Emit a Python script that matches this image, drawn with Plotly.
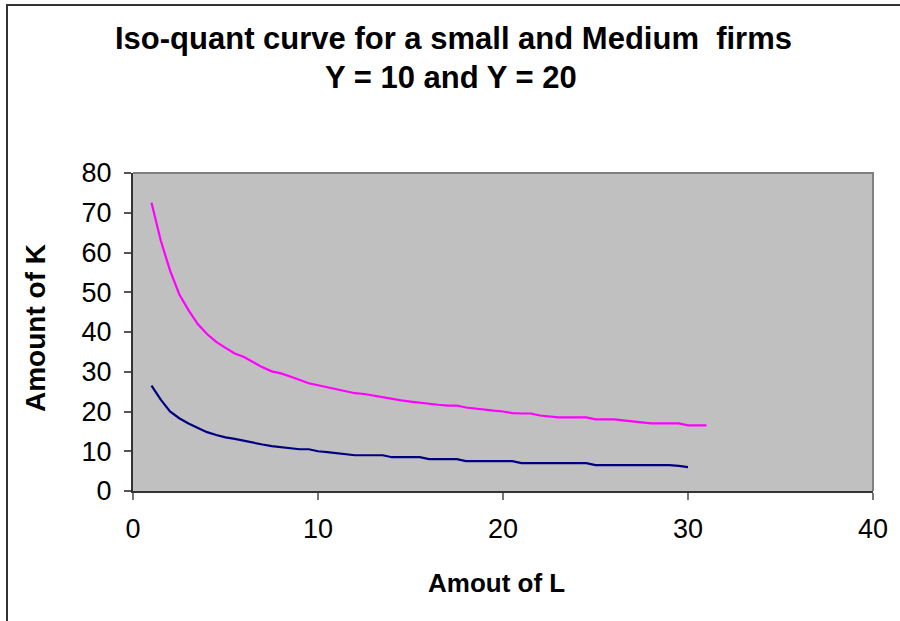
import plotly.graph_objects as go

# Data
L_small = [1 + 0.5 * i for i in range(59)]  # 1 .. 30
K_small = [26.5, 23, 20, 18.3, 17, 15.8, 14.8, 14.1, 13.5, 13.1,
           12.6, 12.2, 11.7, 11.3, 11, 10.8, 10.5, 10.5, 10, 9.8,
           9.5, 9.3, 9, 9, 9, 9, 8.5, 8.5, 8.5, 8.5,
           8, 8, 8, 8, 7.5, 7.5, 7.5, 7.5, 7.5, 7.5,
           7, 7, 7, 7, 7, 7, 7, 7, 6.5, 6.5,
           6.5, 6.5, 6.5, 6.5, 6.5, 6.5, 6.5, 6.3, 6]

L_medium = [1 + 0.5 * i for i in range(61)]  # 1 .. 31
K_medium = [72.5, 63, 55.5, 49.5, 45.5, 42, 39.5, 37.5, 36, 34.6,
            33.7, 32.4, 31.1, 30.1, 29.6, 28.8, 28, 27.1, 26.6, 26.1,
            25.5, 25.1, 24.6, 24.4, 24, 23.6, 23.1, 22.8, 22.5, 22.2,
            22, 21.7, 21.5, 21.5, 21, 20.7, 20.5, 20.2, 20, 19.6,
            19.5, 19.5, 19, 18.8, 18.5, 18.5, 18.5, 18.5, 18, 18,
            18, 17.75, 17.5, 17.25, 17, 17, 17, 17, 16.5, 16.5, 16.5]

x_ticks = [0, 10, 20, 30, 40]
y_ticks = [0, 10, 20, 30, 40, 50, 60, 70, 80]

title_lines = ["Iso-quant curve for a small and Medium  firms", "Y = 10 and Y = 20"]

FONT = "Liberation Sans, Arial, sans-serif"

fig = go.Figure()
fig.add_trace(go.Scatter(x=L_small, y=K_small, mode="lines",
                         line=dict(color="#000080", width=2.2), name="Y = 10"))
fig.add_trace(go.Scatter(x=L_medium, y=K_medium, mode="lines",
                         line=dict(color="#FF00FF", width=2.2), name="Y = 20"))

W, H = 900, 621
ml, mr, mt, mb = 133, 27, 173, 130
pw, ph = W - ml - mr, H - mt - mb

def px2x(px):
    return (px - ml) / pw

def py2y(py):
    return (H - mb - py) / ph

annotations = [
    dict(text="<b>" + title_lines[0] + "</b>", xref="paper", yref="paper",
         x=px2x(453), y=py2y(38), xanchor="center", yanchor="middle",
         showarrow=False, font=dict(size=31, family=FONT, color="black")),
    dict(text="<b>" + title_lines[1] + "</b>", xref="paper", yref="paper",
         x=px2x(451), y=py2y(77), xanchor="center", yanchor="middle",
         showarrow=False, font=dict(size=31, family=FONT, color="black")),
    dict(text="<b>Amout of L</b>", xref="paper", yref="paper",
         x=px2x(496.5), y=py2y(583), xanchor="center", yanchor="middle",
         showarrow=False, font=dict(size=26, family=FONT, color="black")),
    dict(text="<b>Amount of K</b>", xref="paper", yref="paper",
         x=px2x(35), y=py2y(328), xanchor="center", yanchor="middle",
         textangle=-90, showarrow=False,
         font=dict(size=28, family=FONT, color="black")),
]

fig.update_layout(
    width=W, height=H,
    margin=dict(l=ml, r=mr, t=mt, b=mb),
    paper_bgcolor="white",
    plot_bgcolor="#C0C0C0",
    showlegend=False,
    font=dict(family=FONT, color="black"),
    xaxis=dict(
        range=[0, 40], tickvals=x_ticks, ticktext=[str(v) for v in x_ticks],
        showgrid=False, zeroline=False,
        showline=True, linecolor="#333333", linewidth=2,
        ticks="outside", ticklen=7, tickwidth=1.5, tickcolor="#777777",
        tickfont=dict(size=27, family=FONT, color="black"),
        ticklabelstandoff=6,
    ),
    yaxis=dict(
        range=[0, 80], tickvals=y_ticks, ticktext=[str(v) for v in y_ticks],
        showgrid=False, zeroline=False,
        showline=True, linecolor="#333333", linewidth=2,
        ticks="outside", ticklen=7, tickwidth=1.5, tickcolor="#555555",
        tickfont=dict(size=27, family=FONT, color="black"),
        ticklabelstandoff=7,
    ),
    annotations=annotations,
    shapes=[
        # plot area gray border (top and right)
        dict(type="path", xref="paper", yref="paper",
             path="M 0 1 L 1 1 L 1 0", line=dict(color="#808080", width=2)),
        # outer chart border
        dict(type="rect", xref="paper", yref="paper",
             x0=px2x(7), x1=px2x(915), y0=py2y(640), y1=py2y(5),
             line=dict(color="#333333", width=2), fillcolor="rgba(0,0,0,0)"),
    ],
)

fig.write_html("out.html")
